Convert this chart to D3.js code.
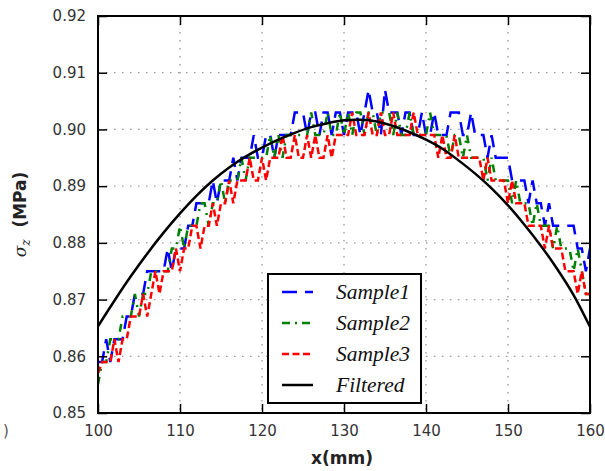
<!DOCTYPE html>
<html>
<head>
<meta charset="utf-8">
<script src="https://cdn.jsdelivr.net/npm/d3@7"></script>
<style>
  body { margin: 0; background: #fff; }
  svg { display: block; }
  .tick text { font-family: "DejaVu Sans", sans-serif; font-size: 15px; fill: #333; }
</style>
</head>
<body>
<div id="chart"></div>
<script>
// x grid of the sampled curves (every 0.5 mm)
var xs = d3.range(100, 160.001, 0.5);

var sample1 = [0.859,0.859,0.863,0.859,0.863,0.863,0.863,0.867,0.867,0.871,0.871,0.871,0.875,0.875,0.875,0.875,0.875,0.879,0.875,0.879,
  0.879,0.879,0.883,0.883,0.887,0.887,0.887,0.887,0.891,0.887,0.891,0.891,0.891,0.895,0.891,0.895,0.895,0.895,0.899,0.895,
  0.895,0.899,0.899,0.895,0.899,0.899,0.899,0.899,0.903,0.903,0.903,0.899,0.903,0.903,0.899,0.903,0.903,0.899,0.903,0.903,
  0.899,0.903,0.903,0.903,0.899,0.903,0.907,0.903,0.903,0.899,0.907,0.903,0.903,0.903,0.899,0.903,0.903,0.899,0.899,0.903,
  0.899,0.899,0.903,0.899,0.899,0.899,0.903,0.903,0.903,0.899,0.899,0.903,0.899,0.899,0.899,0.895,0.899,0.895,0.895,0.895,
  0.895,0.891,0.891,0.891,0.891,0.887,0.891,0.887,0.887,0.883,0.887,0.883,0.883,0.883,0.883,0.883,0.883,0.879,0.879,0.875,0.879];

var sample2 = [0.855,0.859,0.859,0.863,0.863,0.863,0.867,0.867,0.867,0.871,0.867,0.871,0.871,0.875,0.875,0.875,0.875,0.875,0.879,0.879,
  0.883,0.879,0.883,0.883,0.883,0.887,0.887,0.883,0.887,0.887,0.891,0.887,0.891,0.891,0.891,0.895,0.891,0.895,0.895,0.895,
  0.895,0.895,0.899,0.895,0.899,0.895,0.899,0.899,0.899,0.899,0.899,0.899,0.903,0.899,0.899,0.899,0.903,0.899,0.899,0.903,
  0.899,0.903,0.899,0.903,0.903,0.899,0.903,0.903,0.899,0.903,0.903,0.903,0.899,0.903,0.899,0.899,0.903,0.899,0.899,0.899,
  0.899,0.903,0.899,0.899,0.899,0.899,0.895,0.899,0.899,0.895,0.899,0.895,0.895,0.895,0.895,0.891,0.895,0.891,0.891,0.891,
  0.891,0.887,0.891,0.887,0.887,0.887,0.883,0.887,0.883,0.883,0.883,0.879,0.883,0.879,0.879,0.879,0.875,0.879,0.875,0.871,0.871];

var sample3 = [0.857,0.859,0.859,0.859,0.863,0.859,0.863,0.863,0.867,0.867,0.867,0.871,0.867,0.871,0.875,0.871,0.875,0.875,0.875,0.879,
  0.875,0.879,0.879,0.883,0.883,0.879,0.883,0.883,0.887,0.883,0.887,0.887,0.891,0.887,0.891,0.891,0.891,0.895,0.891,0.891,
  0.895,0.891,0.895,0.895,0.895,0.899,0.895,0.895,0.899,0.895,0.895,0.899,0.895,0.899,0.895,0.895,0.899,0.895,0.899,0.899,
  0.899,0.899,0.903,0.899,0.899,0.899,0.903,0.899,0.899,0.903,0.899,0.899,0.903,0.899,0.899,0.899,0.899,0.903,0.899,0.899,
  0.899,0.899,0.899,0.895,0.899,0.895,0.895,0.899,0.895,0.895,0.895,0.895,0.895,0.895,0.891,0.895,0.891,0.891,0.891,0.891,
  0.887,0.891,0.887,0.887,0.887,0.883,0.883,0.883,0.883,0.879,0.883,0.879,0.879,0.879,0.875,0.875,0.875,0.871,0.875,0.871,0.871];

var filteredX = [100,102,104,106,108,110,112,114,116,118,120,122,124,126,128,130,132,134,136,138,140,142,144,146,148,150,152,154,156,158,160];
var filteredY = [0.8653,0.8698,0.8741,0.8781,0.8818,0.8852,0.8883,0.8910,0.8933,0.8952,0.8968,0.8982,0.8994,0.9004,0.9011,0.9016,
  0.9017,0.9014,0.9006,0.8995,0.8982,0.8966,0.8945,0.8922,0.8896,0.8866,0.8832,0.8795,0.8754,0.8708,0.8652];

var xTicks = [100,110,120,130,140,150,160];
var yTicks = [0.85,0.86,0.87,0.88,0.89,0.90,0.91,0.92];
var seriesNames = ["Sample1","Sample2","Sample3","Filtered"];

var W = 605, H = 471;
var pL = 98, pR = 590, pT = 16, pB = 413;

var svg = d3.select("#chart").append("svg")
  .attr("width", W).attr("height", H);

var x = d3.scaleLinear().domain([100,160]).range([pL,pR]);
var y = d3.scaleLinear().domain([0.85,0.92]).range([pB,pT]);

// grid
svg.append("g").selectAll("line").data(xTicks.slice(1,-1)).enter().append("line")
  .attr("x1", d=>x(d)).attr("x2", d=>x(d)).attr("y1", pT).attr("y2", pB)
  .attr("stroke", "#999").attr("stroke-width", 1.3).attr("stroke-dasharray", "1.5,6.5");
svg.append("g").selectAll("line").data(yTicks.slice(1,-1)).enter().append("line")
  .attr("y1", d=>y(d)).attr("y2", d=>y(d)).attr("x1", pL).attr("x2", pR)
  .attr("stroke", "#999").attr("stroke-width", 1.3).attr("stroke-dasharray", "1.5,6.5");

svg.append("defs").append("clipPath").attr("id","plotclip")
  .append("rect").attr("x", pL).attr("y", pT).attr("width", pR-pL).attr("height", pB-pT);

var line = d3.line().x(d=>x(d[0])).y(d=>y(d[1]));
var plot = svg.append("g").attr("clip-path","url(#plotclip)");

var styles = [
  {data: sample1, color: "#0000ff", dash: "15,8"},
  {data: sample2, color: "#008000", dash: "8,6,2,6"},
  {data: sample3, color: "#ff0000", dash: "7,3.5"}
];
styles.forEach(function(s){
  plot.append("path")
    .datum(xs.map((v,i)=>[v, s.data[i]]))
    .attr("d", line)
    .attr("fill","none").attr("stroke", s.color).attr("stroke-width", 2.5)
    .attr("stroke-dasharray", s.dash);
});
plot.append("path")
  .datum(filteredX.map((v,i)=>[v, filteredY[i]]))
  .attr("d", d3.line().x(d=>x(d[0])).y(d=>y(d[1])).curve(d3.curveCatmullRom))
  .attr("fill","none").attr("stroke","#000").attr("stroke-width",2.5);

// axes with inward ticks on all sides
var fmtY = d3.format(".2f");
svg.append("g").attr("transform","translate(0,"+pB+")")
  .call(d3.axisBottom(x).tickValues(xTicks).tickSize(-9).tickPadding(12))
  .call(g=>g.select(".domain").remove());
svg.append("g").attr("transform","translate(0,"+pT+")")
  .call(d3.axisTop(x).tickValues(xTicks).tickSize(-9).tickFormat(""))
  .call(g=>g.select(".domain").remove());
svg.append("g").attr("transform","translate("+pL+",0)")
  .call(d3.axisLeft(y).tickValues(yTicks).tickSize(-9).tickPadding(12).tickFormat(fmtY))
  .call(g=>g.select(".domain").remove());
svg.append("g").attr("transform","translate("+pR+",0)")
  .call(d3.axisRight(y).tickValues(yTicks).tickSize(-9).tickFormat(""))
  .call(g=>g.select(".domain").remove());
svg.selectAll(".tick line").attr("stroke","#000").attr("stroke-width",1.5);

svg.append("rect").attr("x",pL).attr("y",pT).attr("width",pR-pL).attr("height",pB-pT)
  .attr("fill","none").attr("stroke","#000").attr("stroke-width",2);

// axis labels
svg.append("text").attr("x", (pL+pR)/2 - 2).attr("y", 464)
  .attr("text-anchor","middle")
  .style("font-family","DejaVu Sans, sans-serif").style("font-size","17px").style("font-weight","bold").style("fill","#222")
  .text("x(mm)");

var yl = svg.append("text").attr("transform","translate(26,"+((pT+pB)/2)+") rotate(-90)")
  .attr("text-anchor","middle")
  .style("font-family","DejaVu Sans, sans-serif").style("font-size","17px").style("fill","#222");
yl.append("tspan").style("font-family","DejaVu Serif, serif").style("font-style","italic").text("σ");
yl.append("tspan").attr("dy",4).style("font-family","DejaVu Serif, serif").style("font-style","italic").style("font-size","12px").text("z");
yl.append("tspan").attr("dy",-4).style("font-weight","bold").text("\u00a0\u00a0(MPa)");

svg.append("text").attr("x",3).attr("y",436)
  .style("font-family","DejaVu Sans, sans-serif").style("font-size","15px").style("fill","#555").text(")");

// legend
var lg = svg.append("g");
lg.append("rect").attr("x",268).attr("y",274).attr("width",153).attr("height",129)
  .attr("fill","#fff").attr("stroke","#000").attr("stroke-width",2);
var legDash = ["15,8","8,5,2,5","7,3.5",null];
var legColor = ["#0000ff","#008000","#ff0000","#000"];
seriesNames.forEach(function(n,i){
  var yy = 292 + i*31;
  var l = lg.append("line").attr("x1",282).attr("x2",313).attr("y1",yy).attr("y2",yy)
    .attr("stroke",legColor[i]).attr("stroke-width",2.5);
  if (legDash[i]) l.attr("stroke-dasharray",legDash[i]);
  lg.append("text").attr("x",336).attr("y",yy+7)
    .style("font-family","Liberation Serif, serif").style("font-style","italic").style("font-size","21.5px").style("fill","#111")
    .text(n);
});
</script>
</body>
</html>
